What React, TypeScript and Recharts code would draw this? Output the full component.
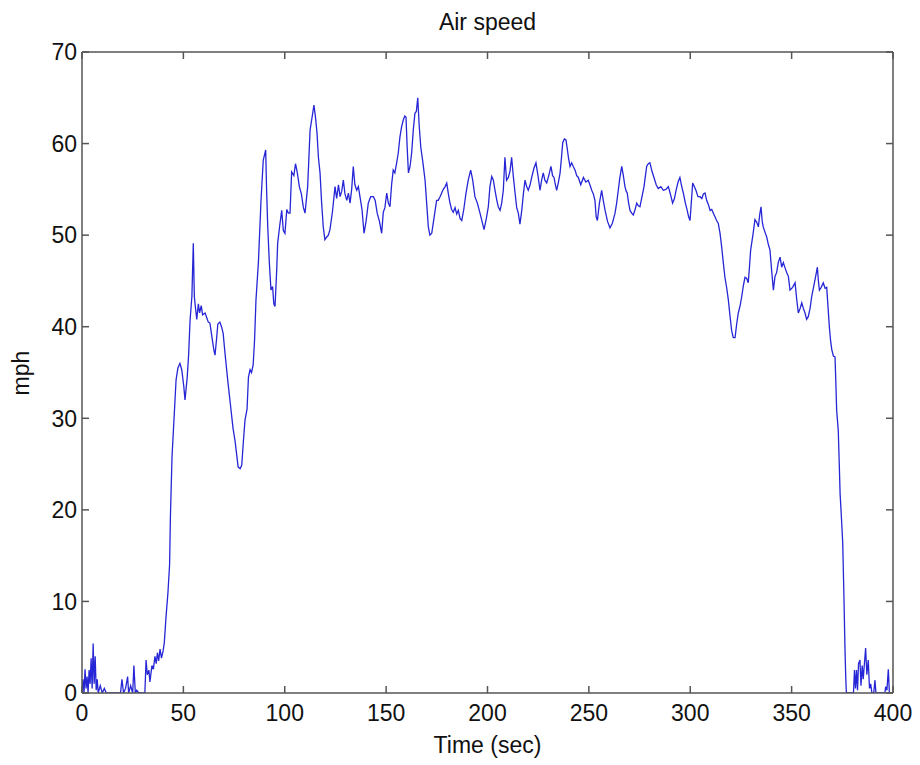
import React from 'react';
import { LineChart, Line, XAxis, YAxis } from 'recharts';

// time in seconds
const times = [
  0, 0.5, 1, 1.5, 2, 2.5, 3, 3.5, 4, 4.5, 5, 5.5, 6, 6.5, 7, 7.5, 8, 9, 10, 11, 12, 19,
  19.7, 20.5, 21.5, 22.5, 23, 24, 25, 25.6, 26.3, 27, 28, 31, 31.6, 32.2, 33, 33.5, 34.5, 35.2,
  36, 36.6, 37.2, 37.8, 38.5, 39.2, 40, 40.6, 41.4, 42.4, 43.2, 43.6, 44.4, 45.4, 46.4, 47.3,
  48.3, 49.2, 50.2, 50.8, 51.9, 52.6, 53.3, 54.2, 54.9, 55.4, 56, 56.6, 57.4, 58, 58.8, 59.5,
  60.7, 61.5, 62.3, 63.1, 64, 65, 65.6, 66.3, 67, 68, 68.8, 69.6, 70.8, 72, 73.2, 74.5, 75.5,
  76.3, 77, 78, 78.8, 79.6, 80.4, 81.4, 82.1, 82.9, 83.6, 84.4, 85.1, 85.8, 87, 88.3, 89.4,
  90.6, 91, 91.6, 92.4, 93.2, 94, 94.6, 95.2, 96, 96.5, 97.5, 98.5, 99.3, 100.1, 101, 101.8,
  102.6, 103.4, 104.5, 105.3, 106.2, 107.2, 108.2, 109.2, 110, 111.3, 112.5, 113.5, 114.4,
  115.2, 115.9, 116.6, 117.4, 118.2, 119, 119.8, 120.7, 121.5, 122.3, 123.5, 124.8, 125.6,
  126.5, 127.3, 128.1, 128.9, 129.7, 130.6, 131.4, 132.2, 133, 133.8, 134.6, 135.5, 136.3,
  137.1, 138.1, 139.1, 140.1, 141.2, 142.4, 143.7, 144.6, 145.6, 146.7, 147.8, 148.6, 149.4,
  150.3, 151.1, 151.9, 152.7, 153.5, 154.3, 155.2, 156, 156.8, 157.6, 158.5, 159.2, 159.8,
  160.4, 161, 161.8, 162.6, 163.4, 164.2, 164.9, 165.6, 166.3, 167.1, 168.1, 169.2, 170,
  170.8, 171.6, 172.5, 173.7, 174.9, 175.7, 176.6, 177.4, 178.2, 179.1, 179.9, 180.7, 181.5,
  182.3, 183.1, 184, 184.8, 185.6, 186.5, 187.3, 188.3, 189.4, 190.5, 191.7, 192.7, 193.8,
  195, 196.3, 197.3, 198.3, 199.4, 200.4, 201.2, 202.1, 202.9, 203.7, 204.6, 205.3, 206.2,
  207, 207.8, 208.6, 209.4, 210.3, 211.1, 211.9, 212.7, 213.6, 214.4, 215.2, 216, 216.9,
  217.7, 218.5, 219.3, 220.1, 221, 221.8, 222.9, 223.9, 224.9, 225.9, 226.7, 227.5, 228.3,
  229.2, 230.2, 231.3, 232.1, 232.8, 233.5, 234.1, 235, 235.8, 236.5, 237.1, 237.9, 238.7,
  239.3, 239.9, 240.7, 241.5, 242.3, 243.2, 244, 244.8, 246, 247.3, 248.5, 249.7, 250.5,
  251.4, 252.2, 253, 253.6, 254.2, 255.2, 256.3, 257.1, 258, 259.2, 260.4, 261.6, 262.9,
  263.7, 264.5, 265.3, 266.2, 267, 267.8, 268.4, 268.9, 269.6, 270.3, 271.1, 271.9, 272.8,
  273.6, 274.4, 275.2, 276.2, 277.2, 277.9, 278.5, 279.3, 280.1, 281.1, 282.1, 283.2, 284.2,
  285.5, 286.7, 288, 289.2, 290.3, 291.3, 292.2, 293, 294, 294.9, 295.8, 296.6, 297.6, 298.5,
  299.2, 299.9, 300.5, 301.2, 302, 302.8, 303.8, 304.8, 305.7, 306.5, 307.3, 308.1, 309,
  309.8, 310.6, 311.4, 312.2, 313, 313.8, 314.7, 315.5, 316.3, 317.1, 318, 318.8, 319.6,
  320.4, 321.2, 322.1, 322.9, 323.7, 324.6, 325.4, 326.2, 327, 327.8, 328.6, 329.2, 329.8,
  330.9, 331.9, 332.8, 333.6, 334.3, 334.9, 335.5, 336, 336.9, 337.7, 338.5, 339.3, 340.2,
  341, 341.8, 342.6, 343.4, 344.3, 345.1, 345.9, 346.8, 347.6, 348.4, 349.2, 350.5, 351.7,
  352.5, 353.3, 354.2, 355, 355.8, 356.6, 357.4, 358.2, 359.1, 359.9, 360.7, 361.5, 362.1,
  362.7, 363.2, 363.7, 364.6, 365.6, 366.5, 367.3, 368, 368.6, 369.2, 369.8, 370.6, 371.4,
  371.8, 372.2, 373, 373.5, 373.9, 374.6, 375.2, 375.8, 376.3, 376.7, 377, 380.5, 381, 381.5,
  382, 382.5, 383, 383.7, 384.2, 384.8, 385.3, 386, 386.5, 387.1, 387.8, 388.4, 389, 389.6,
  390.5, 391.1, 391.6, 396, 396.4, 397, 397.7, 398.2
];

// air speed in mph
const speeds = [
  0, 1.5, 0, 2.6, 0.5, 1.8, 0, 2.5, 1, 3.8, 0.5, 5.4, 1, 4, 0.3, 1.5, 0, 0.8, 0, 0.5, 0, 0,
  1.5, 0, 0.5, 1.8, 0, 0.8, 0, 3, 0, 0.3, 0, 0, 3.6, 2, 2.5, 1.2, 3, 2.6,
  4, 3.2, 4.4, 3.5, 4.8, 3.8, 4.6, 5.5, 8.2, 11, 14, 19.2, 25.8, 30, 34.2, 35.5,
  36, 35.3, 33.5, 32, 34.5, 37, 40.7, 43.3, 49.1, 43.3, 42, 40.8, 42.5, 41.5, 42.3, 41.3,
  41.5, 41, 40.5, 40.4, 39, 37.5, 36.9, 38.5, 40.3, 40.5, 40, 39.3, 36.5, 33.9, 31.5, 28.9, 27.5,
  26, 24.7, 24.5, 24.9, 27.5, 29.8, 31, 34.5, 35.3, 35, 35.8, 38.5, 42.9, 47, 53.8, 58.2,
  59.3, 55.3, 51, 47, 44, 44.4, 42.5, 42.2, 46, 49.1, 51, 52.7, 50.5, 50.2, 52.8, 52.4,
  52.4, 56.9, 56.5, 57.8, 56.8, 55.3, 54.5, 53, 52.4, 55.3, 61.5, 62.9, 64.2,
  62.8, 61.2, 58.5, 56.8, 53.5, 50.9, 49.5, 49.8, 50, 50.6, 52.5, 55.3, 54,
  55.5, 54.2, 54.8, 56, 54.5, 53.8, 54.6, 53.5, 55, 57.5, 55.5, 54.9, 55.3,
  54.2, 52.8, 50.2, 51.5, 53.5, 54.2, 54.2, 53.8, 52.4, 51.5, 50.2, 52.5, 53,
  54.6, 53.5, 53.1, 55.5, 57.1, 56.8, 57.9, 59, 60.7, 61.8, 62.6, 63, 62.9,
  59.5, 56.8, 57.5, 59, 61.5, 63.3, 63.5, 65, 62, 59.6, 58, 56, 53.5,
  50.9, 50, 50.2, 52, 53.8, 53.8, 54.2, 54.6, 55, 55.3, 55.7, 54.5, 53.5,
  52.8, 52.5, 53, 52.3, 52.7, 51.8, 51.6, 52.8, 54.6, 56, 57.1, 56, 54.2,
  53.5, 52.4, 51.5, 50.6, 51.8, 53.1, 55.3, 56.4, 56, 54.9, 53.8, 53.1, 52.7,
  53.5, 54.9, 58.5, 56, 56.3, 57, 58.5, 56.5, 54.6, 53, 52.4, 51.2, 52.7,
  54.5, 56, 55.3, 54.9, 55.5, 56.3, 57.3, 57.9, 56.5, 54.9, 56, 56.8, 56,
  55.7, 56.5, 57.5, 56.5, 56.3, 55.5, 54.9, 55.8, 56.8, 58.5, 60.1, 60.5, 60.4,
  59.5, 58.5, 57.5, 57.9, 57.5, 57.1, 56.5, 56.3, 55.5, 56.3, 55.8, 56, 55.5,
  54.9, 54.5, 53.8, 52, 51.6, 53.5, 54.9, 53.8, 52.7, 51.5, 50.8, 51.3, 52.4,
  53.5, 54.9, 56.3, 57.5, 56.5, 55.3, 54.8, 54.6, 53.5, 52.7, 52.4, 52.2, 52.8,
  53.5, 53.2, 53.1, 54.2, 55.3, 56.5, 57.5, 57.8, 57.9, 57, 56.3, 55.5, 55.1,
  55.3, 54.9, 55, 55.3, 54.4, 53.5, 54, 54.9, 55.8, 56.3, 55.3, 54.6, 53.5, 52.7,
  52, 51.6, 53.5, 55.7, 55.3, 54.9, 54.2, 54.2, 54, 54.5, 54.6, 53.8, 53.3,
  52.7, 52.8, 52.4, 52, 51.6, 51.3, 50.2, 48.7, 47, 45.4, 44.2, 42.9, 41.2,
  39.6, 38.8, 38.8, 40.3, 41.5, 42.3, 43.3, 44.5, 45.4, 45.3, 44.8, 46.5, 48.4,
  50, 51.7, 51.4, 50.9, 52.3, 53.1, 51.5, 50.9, 50.3, 49.8, 49, 48.4, 46,
  44, 45.5, 45.9, 47, 47.6, 46.5, 47, 46.4, 45.9, 45.5, 44, 44.3, 44.8,
  43, 41.5, 42, 42.6, 42, 41.5, 40.8, 41.1, 42, 43.3, 44.2, 45.1, 45.8,
  46.5, 45, 44, 44.3, 44.8, 44.2, 44.3, 42, 40, 38.5, 37.5, 36.8, 36.7,
  34, 30.9, 28.7, 25, 21.8, 19, 16.4, 10.5, 5, 1.7, 0, 0, 2.5, 0.5,
  2.5, 0.3, 3.2, 3.6, 0.8, 3, 1.5, 3.5, 4.9, 2, 3.6, 0.5, 1, 0,
  0, 1.4, 0, 0, 0.7, 0.3, 2.6, 0
];

const xTicks = [0, 50, 100, 150, 200, 250, 300, 350, 400];
const yTicks = [0, 10, 20, 30, 40, 50, 60, 70];

const rows = times.map((t, i) => ({ t, v: speeds[i] }));

const FONT = '"Liberation Sans", Arial, Helvetica, sans-serif';
const TICK_LEN = 7;
const BOX = '#555';

const BottomTick = (props: any) => {
  const { x, y, payload } = props;
  return (
    <g>
      <line x1={x} y1={y} x2={x} y2={y - TICK_LEN} stroke={BOX} strokeWidth={1.5} />
      <text x={x} y={y + 28} textAnchor="middle" fontSize={23} fontFamily={FONT} fill="#111">
        {payload.value}
      </text>
    </g>
  );
};

const TopTick = (props: any) => {
  const { x, y } = props;
  return <line x1={x} y1={y} x2={x} y2={y + TICK_LEN} stroke={BOX} strokeWidth={1.5} />;
};

const LeftTick = (props: any) => {
  const { x, y, payload } = props;
  return (
    <g>
      <line x1={x} y1={y} x2={x + TICK_LEN} y2={y} stroke={BOX} strokeWidth={1.5} />
      <text x={x - 5} y={y} dy="0.36em" textAnchor="end" fontSize={23} fontFamily={FONT} fill="#111">
        {payload.value}
      </text>
    </g>
  );
};

const RightTick = (props: any) => {
  const { x, y } = props;
  return <line x1={x} y1={y} x2={x - TICK_LEN} y2={y} stroke={BOX} strokeWidth={1.5} />;
};

export default function App() {
  return (
    <div style={{ position: 'absolute', left: 0, top: 0, width: 920, height: 765, background: '#fff' }}>
      <LineChart
        width={920}
        height={765}
        data={rows}
        margin={{ top: 51, right: 26, bottom: 71, left: 81 }}
      >
        <XAxis
          xAxisId="bottom"
          dataKey="t"
          type="number"
          domain={[0, 400]}
          ticks={xTicks}
          allowDataOverflow
          height={1}
          tickSize={0}
          tickMargin={0}
          tickLine={false}
          tick={<BottomTick />}
          axisLine={{ stroke: BOX, strokeWidth: 1.5 }}
          interval={0}
        />
        <XAxis
          xAxisId="top"
          orientation="top"
          dataKey="t"
          type="number"
          domain={[0, 400]}
          ticks={xTicks}
          allowDataOverflow
          height={1}
          tickSize={0}
          tickMargin={0}
          tickLine={false}
          tick={<TopTick />}
          axisLine={{ stroke: BOX, strokeWidth: 1.5 }}
          interval={0}
        />
        <YAxis
          yAxisId="left"
          type="number"
          domain={[0, 70]}
          ticks={yTicks}
          allowDataOverflow
          width={1}
          tickSize={0}
          tickMargin={0}
          tickLine={false}
          tick={<LeftTick />}
          axisLine={{ stroke: BOX, strokeWidth: 1.5 }}
          interval={0}
        />
        <YAxis
          yAxisId="right"
          orientation="right"
          type="number"
          domain={[0, 70]}
          ticks={yTicks}
          allowDataOverflow
          width={1}
          tickSize={0}
          tickMargin={0}
          tickLine={false}
          tick={<RightTick />}
          axisLine={{ stroke: BOX, strokeWidth: 1.5 }}
          interval={0}
        />
        <Line
          xAxisId="top"
          yAxisId="right"
          dataKey="v"
          stroke="none"
          dot={false}
          activeDot={false}
          isAnimationActive={false}
        />
        <Line
          xAxisId="bottom"
          yAxisId="left"
          type="linear"
          dataKey="v"
          stroke="#2626d6"
          strokeWidth={1.3}
          dot={false}
          activeDot={false}
          isAnimationActive={false}
        />
      </LineChart>
      <svg
        width={920}
        height={765}
        style={{ position: 'absolute', left: 0, top: 0, pointerEvents: 'none' }}
      >
        <text x={487.5} y={30} textAnchor="middle" fontSize={23} fontFamily={FONT} fill="#111">
          Air speed
        </text>
        <text x={487.5} y={753} textAnchor="middle" fontSize={23} fontFamily={FONT} fill="#111">
          Time (sec)
        </text>
        <text
          x={0}
          y={0}
          transform="translate(29, 373) rotate(-90)"
          textAnchor="middle"
          fontSize={23}
          fontFamily={FONT}
          fill="#111"
        >
          mph
        </text>
      </svg>
    </div>
  );
}
